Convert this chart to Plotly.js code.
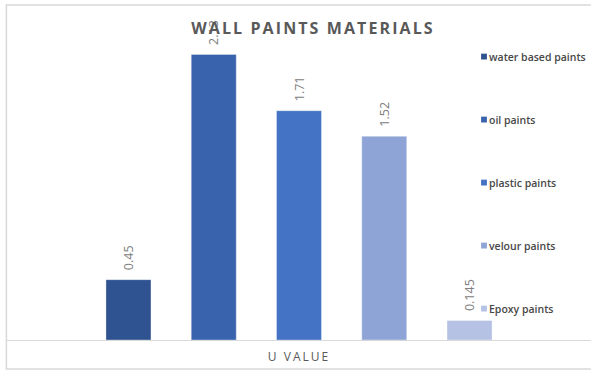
<!DOCTYPE html>
<html>
<head>
<meta charset="utf-8">
<script src="https://cdn.plot.ly/plotly-3.0.1.min.js"></script>
<style>
  html, body { margin: 0; padding: 0; background: #fff; }
  #chart { width: 591px; height: 370px; }
  .gtitle { letter-spacing: 2.1px; }
  .xtick text { letter-spacing: 2px; }
  .legendpoints path { transform: translate(35px, 0) scale(0.5); }
</style>
</head>
<body>
<div id="chart"></div>
<script>
// ---- data ----
const categories = ["U VALUE"];
const seriesNames = ["water based paints", "oil paints", "plastic paints", "velour paints", "Epoxy paints"];
const uValues = [0.45, 2.13, 1.71, 1.52, 0.145];
const seriesColors = ["#2f5290", "#3a63ad", "#4472c4", "#8fa4d6", "#b5c2e4"];

const traces = seriesNames.map((name, i) => ({
  type: "bar",
  name: name,
  legendgroup: "g" + i,
  x: categories,
  y: [uValues[i]],
  texttemplate: "\u00a0\u00a0%{y}",
  textposition: "outside",
  textangle: -90,
  constraintext: "none",
  cliponaxis: false,
  textfont: { family: "Open Sans, sans-serif", size: 12.5, color: "#808080" },
  marker: { color: seriesColors[i], line: { color: "rgba(255,255,255,0.35)", width: 1 } },
  hoverinfo: "name+y"
}));

const layout = {
  width: 591,
  height: 370,
  margin: { l: 7, r: 0, t: 30, b: 30 },
  paper_bgcolor: "#ffffff",
  plot_bgcolor: "#ffffff",
  barmode: "group",
  bargap: 0.27,
  bargroupgap: 0.472,
  showlegend: true,
  title: {
    text: "<b>WALL PAINTS MATERIALS</b>",
    font: { family: "Open Sans, sans-serif", size: 16, color: "#595959" },
    x: 0.5296, xref: "container", xanchor: "center",
    y: 0.922, yref: "container", yanchor: "middle"
  },
  xaxis: {
    type: "category",
    showline: true,
    linecolor: "#d9d9d9",
    linewidth: 1,
    ticks: "",
    showgrid: false,
    zeroline: false,
    tickfont: { family: "Open Sans, sans-serif", size: 12, color: "#595959" },
    ticklabelstandoff: 6
  },
  yaxis: {
    visible: false,
    range: [0, 2.312],
    showgrid: false,
    zeroline: false
  },
  legend: {
    x: 0.757, xanchor: "left",
    y: 0.961, yanchor: "top",
    bgcolor: "rgba(0,0,0,0)",
    tracegroupgap: 44,
    traceorder: "grouped",
    font: { family: "Open Sans, sans-serif", size: 10.5, weight: 600, color: "#484848" }
  },
  shapes: [{
    type: "rect", xref: "paper", yref: "paper",
    x0: -0.001, x1: 1.05, y0: -0.0935, y1: 1.0806,
    line: { color: "#d9d9d9", width: 1.5 },
    fillcolor: "rgba(0,0,0,0)",
    layer: "below"
  }]
};

Plotly.newPlot("chart", traces, layout, { displayModeBar: false, staticPlot: true });
</script>
</body>
</html>
